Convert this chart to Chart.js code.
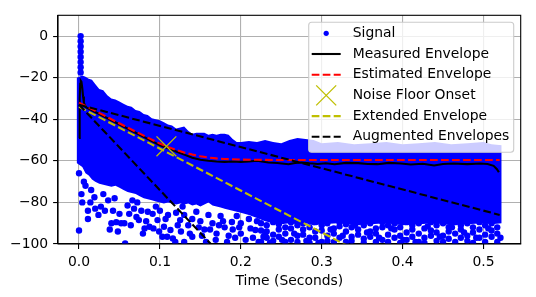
<!DOCTYPE html>
<html>
<head>
<meta charset="utf-8">
<script src="https://cdn.jsdelivr.net/npm/chart.js@4.4.0/dist/chart.umd.min.js"></script>
<style>
  html, body { margin: 0; padding: 0; background: #fff; }
  canvas { display: block; }
</style>
</head>
<body>
<canvas id="chart" width="536" height="297" style="width:536px;height:297px"></canvas>
<script>
// axis ticks
const xTicks = [0, 0.1, 0.2, 0.3, 0.4, 0.5]
const yTicks = [-100, -80, -60, -40, -20, 0]

// signal: dense part of the scatter, read as an upper and lower edge
const bandT = [
  -0.003, 0.004, 0.008, 0.012, 0.016, 0.02, 0.025, 0.03,
  0.035, 0.04, 0.045, 0.05, 0.055, 0.06, 0.065, 0.07,
  0.075, 0.08, 0.085, 0.09, 0.095, 0.1, 0.105, 0.11,
  0.115, 0.12, 0.125, 0.13, 0.135, 0.14, 0.145, 0.15,
  0.155, 0.16, 0.165, 0.17, 0.175, 0.18, 0.185, 0.19,
  0.195, 0.2, 0.21, 0.22, 0.23, 0.24, 0.25, 0.26,
  0.27, 0.28, 0.29, 0.3, 0.32, 0.34, 0.36, 0.38,
  0.4, 0.42, 0.44, 0.46, 0.48, 0.5, 0.51, 0.5225,
]
const bandTop = [
  -20, -19, -19.5, -20.5, -21, -23, -25.5, -26,
  -28.5, -30, -30.5, -31.5, -32.5, -33.5, -34, -35.5,
  -36, -37.5, -38, -39.5, -40, -40.5, -41.5, -42.5,
  -43, -44.5, -44, -43.5, -45.5, -47, -46.5, -46.5,
  -46.5, -47.5, -47, -47.5, -47, -47, -47.5, -49.5,
  -51, -51, -50.5, -51, -50, -51, -51.5, -50,
  -49, -49.5, -50, -51.5, -51, -52, -51.5, -51,
  -52, -51.5, -51, -52, -51.5, -51, -52, -52.5,
]
const bandBottom = [
  -61, -63, -66, -67, -69, -70, -71, -71.5,
  -72, -72.5, -72, -73, -74, -75, -75.5, -76,
  -77, -78, -78.5, -79, -79.5, -80, -80.5, -80,
  -80.5, -81, -80.5, -81, -80.5, -81.5, -81, -82,
  -81, -80, -81.5, -82, -82.5, -83, -83.5, -84,
  -84.5, -85, -86, -87.5, -89, -90, -90.5, -90,
  -90.5, -90, -91, -90.5, -90, -91, -90.5, -90,
  -91, -90.5, -90, -91, -90.5, -90, -90.5, -90,
]

// signal: separate samples (impulse and the scattered low ones)
const signalDots = [
  [0.002, 0], [0.002, -2.5], [0.002, -5], [0.002, -7.5], [0.002, -10],
  [0.002, -12.5], [0.002, -15], [0.002, -17.5],
  [0, -66], [0, -93.5], [0.003, -76], [0.004, -80], [0.006, -70], [0.008, -72],
  [0.011, -84], [0.011, -88], [0.014, -80], [0.015, -74], [0.019, -77.5], [0.02, -83],
  [0.024, -86], [0.027, -82], [0.03, -76], [0.032, -84], [0.036, -79], [0.038, -93],
  [0.04, -90], [0.042, -84], [0.044, -78], [0.046, -89.5], [0.048, -94], [0.05, -85.5],
  [0.052, -90], [0.056, -90], [0.057, -99.7], [0.06, -81.5], [0.062, -85.5], [0.064, -91],
  [0.066, -79], [0.068, -83], [0.071, -87], [0.072, -80], [0.074, -88.5], [0.077, -84],
  [0.079, -95], [0.081, -92.5], [0.083, -89], [0.085, -84.5], [0.087, -91.7], [0.091, -85.5],
  [0.092, -92.5], [0.095, -82], [0.097, -88.5], [0.099, -94], [0.1, -84], [0.103, -96.5],
  [0.105, -91.7], [0.107, -88], [0.109, -96.5], [0.11, -86], [0.113, -93.3], [0.116, -97.3],
  [0.119, -99], [0.12, -85], [0.122, -91], [0.125, -88.5], [0.126, -94], [0.128, -82],
  [0.13, -86], [0.13, -99], [0.135, -91], [0.137, -95], [0.14, -88], [0.14, -96.5],
  [0.145, -84.5], [0.148, -92], [0.15, -89], [0.152, -96], [0.155, -93], [0.157, -99],
  [0.16, -86], [0.162, -93], [0.165, -90], [0.169, -98], [0.17, -95], [0.173, -91],
  [0.175, -86.5], [0.178, -89], [0.18, -92], [0.183, -99], [0.185, -96], [0.189, -89.4],
  [0.19, -93], [0.193, -97], [0.195, -86.5], [0.198, -92], [0.2, -90], [0.2, -95],
  [0.206, -98], [0.21, -88], [0.212, -92.5], [0.215, -97], [0.218, -93.3], [0.22, -89],
  [0.222, -99], [0.23, -95.7],
  [0.225, -90], [0.225, -93.5], [0.225, -99], [0.228, -96.5],
  [0.232, -91], [0.232, -94], [0.232, -97], [0.236, -99.5],
  [0.24, -89.5], [0.24, -95.5], [0.24, -98.5],
  [0.247, -90.5], [0.247, -93], [0.247, -96.5], [0.251, -98],
  [0.255, -92], [0.255, -95], [0.255, -99],
  [0.262, -89.5], [0.262, -92.5], [0.262, -98], [0.266, -95],
  [0.27, -91], [0.27, -96], [0.27, -99],
  [0.277, -90], [0.277, -93], [0.277, -95.5], [0.281, -98.5],
  [0.285, -92], [0.285, -97], [0.285, -99.5],
  [0.292, -89.5], [0.292, -94], [0.292, -97], [0.296, -99.5],
  [0.3, -91], [0.3, -93.5], [0.3, -99],
  [0.307, -90], [0.307, -96], [0.307, -98.5], [0.311, -93],
  [0.315, -92.5], [0.315, -95], [0.315, -99],
  [0.322, -89.5], [0.322, -91.5], [0.322, -97], [0.326, -96],
  [0.33, -90.5], [0.33, -94], [0.33, -99],
  [0.337, -92], [0.337, -96.5], [0.337, -98.5], [0.341, -91],
  [0.345, -89.5], [0.345, -93], [0.345, -95.5],
  [0.352, -91], [0.352, -97.5], [0.352, -99.5], [0.356, -94.5],
  [0.36, -90], [0.36, -94], [0.36, -96.5],
  [0.367, -92.5], [0.367, -95], [0.367, -99], [0.371, -97],
  [0.375, -89.5], [0.375, -92], [0.375, -98],
  [0.382, -91], [0.382, -95.5], [0.382, -99], [0.386, -92.5],
  [0.39, -90], [0.39, -93], [0.39, -97],
  [0.397, -92], [0.397, -96], [0.397, -99.5], [0.401, -98],
  [0.405, -89.5], [0.405, -94.5], [0.405, -98],
  [0.412, -91], [0.412, -93], [0.412, -96.5], [0.416, -99],
  [0.42, -90], [0.42, -95], [0.42, -99],
  [0.427, -92.5], [0.427, -97], [0.427, -99.5], [0.431, -91.5],
  [0.435, -89.5], [0.435, -93.5], [0.435, -96],
  [0.442, -91], [0.442, -94.5], [0.442, -98.5], [0.446, -96.5],
  [0.45, -90], [0.45, -96], [0.45, -99],
  [0.457, -92], [0.457, -94], [0.457, -97.5], [0.461, -92],
  [0.465, -89.5], [0.465, -95], [0.465, -99],
  [0.472, -91], [0.472, -93], [0.472, -97], [0.476, -94.5],
  [0.48, -90], [0.48, -96], [0.48, -98.5],
  [0.487, -92], [0.487, -94.5], [0.487, -99.5], [0.491, -97],
  [0.495, -89.5], [0.495, -93], [0.495, -97],
  [0.502, -91], [0.502, -95.5], [0.502, -99], [0.506, -92.5],
  [0.51, -90], [0.51, -93.5], [0.51, -96.5],
  [0.517, -92], [0.517, -95], [0.517, -99], [0.521, -97],
]

// measured envelope
const measT = [
  0, 0.0008, 0.0015, 0.0022, 0.003, 0.004, 0.005, 0.006, 0.008, 0.01,
  0.02, 0.03, 0.04, 0.05, 0.06, 0.07, 0.08, 0.09, 0.1, 0.11,
  0.12, 0.13, 0.14, 0.15, 0.16, 0.17, 0.18, 0.19, 0.2, 0.21,
  0.22, 0.234, 0.245, 0.259, 0.267, 0.275, 0.285, 0.295, 0.305, 0.316,
  0.33, 0.345, 0.357, 0.369, 0.383, 0.398, 0.41, 0.425, 0.439, 0.45,
  0.463, 0.48, 0.496, 0.505, 0.5125, 0.5166, 0.519,
]
const measDb = [
  -49, -30, -23, -21.5, -22, -25, -29, -32, -34, -34.5,
  -36.5, -38.5, -40.5, -42.5, -44.5, -46.5, -48.5, -50.5, -52.5, -54,
  -55.5, -57, -58.5, -59.5, -60, -60.3, -60.5, -60.3, -60.5, -60.3,
  -60, -60.8, -61, -61.6, -61, -60.8, -61.2, -61.5, -61.2, -61.6,
  -61, -61.1, -61.5, -61.6, -61, -61.3, -61.8, -61.4, -62.2, -61.5,
  -61.3, -61.6, -61.3, -61.5, -62.4, -64, -65.5,
]

// estimated envelope
const estT = [0, 0.02, 0.04, 0.06, 0.08, 0.1, 0.11, 0.12, 0.13, 0.14, 0.15, 0.16, 0.17, 0.18, 0.2, 0.22, 0.25, 0.3, 0.52]
const estDb = [-32, -36, -40, -44, -47.9, -51.7, -53.3, -54.8, -56, -57, -57.8, -58.4, -58.8, -59.1, -59.4, -59.5, -59.6, -59.6, -59.6]

// noise floor onset
const onsetT = [0.108]
const onsetDb = [-53]

// extended envelope
const extT = [0, 0.33]
const extDb = [-34, -100.5]

// augmented envelopes
const augUpperT = [0, 0.52]
const augUpperDb = [-33, -86]
const augLowerT = [0, 0.163]
const augLowerDb = [-33, -100]

const pts = (ts, ys) => ts.map((t, i) => ({ x: t, y: ys[i] }))

const FONT = "'DejaVu Sans', 'Liberation Sans', sans-serif"
const LW = 2.08
const DASH = [7.7, 3.3]
const YELLOW = "#bfbf00"

const legendItems = [
  { label: "Signal", kind: "dot", color: "blue" },
  { label: "Measured Envelope", kind: "line", color: "black" },
  { label: "Estimated Envelope", kind: "dash", color: "red" },
  { label: "Noise Floor Onset", kind: "x", color: YELLOW },
  { label: "Extended Envelope", kind: "dash", color: YELLOW },
  { label: "Augmented Envelopes", kind: "dash", color: "black" },
]

const frameAndLegend = {
  id: "frameAndLegend",
  afterDatasetsDraw(chart) {
    const { ctx, chartArea: ca } = chart
    ctx.save()

    ctx.strokeStyle = "#000"
    ctx.lineWidth = 1.1
    ctx.strokeRect(ca.left, ca.top, ca.right - ca.left, ca.bottom - ca.top)

    const w = 205, h = 130, r = 3
    const x0 = ca.right - 7 - w
    const y0 = ca.top + 7
    ctx.beginPath()
    ctx.moveTo(x0 + r, y0)
    ctx.arcTo(x0 + w, y0, x0 + w, y0 + h, r)
    ctx.arcTo(x0 + w, y0 + h, x0, y0 + h, r)
    ctx.arcTo(x0, y0 + h, x0, y0, r)
    ctx.arcTo(x0, y0, x0 + w, y0, r)
    ctx.closePath()
    ctx.fillStyle = "rgba(255,255,255,0.8)"
    ctx.fill()
    ctx.strokeStyle = "#cccccc"
    ctx.lineWidth = 1.1
    ctx.stroke()

    ctx.font = "13.9px " + FONT
    ctx.textBaseline = "middle"
    ctx.textAlign = "left"

    legendItems.forEach((item, i) => {
      const cy = y0 + 11 + i * 20.7
      const hx0 = x0 + 3
      const hx1 = x0 + 32
      const mx = (hx0 + hx1) / 2

      if (item.kind === "dot") {
        ctx.fillStyle = item.color
        ctx.beginPath()
        ctx.arc(mx, cy, 2.6, 0, Math.PI * 2)
        ctx.fill()
      } else if (item.kind === "x") {
        ctx.strokeStyle = item.color
        ctx.lineWidth = 1.3
        ctx.setLineDash([])
        ctx.beginPath()
        ctx.moveTo(mx - 10, cy - 10)
        ctx.lineTo(mx + 10, cy + 10)
        ctx.moveTo(mx + 10, cy - 10)
        ctx.lineTo(mx - 10, cy + 10)
        ctx.stroke()
      } else {
        ctx.strokeStyle = item.color
        ctx.lineWidth = LW
        ctx.setLineDash(item.kind === "dash" ? DASH : [])
        ctx.beginPath()
        ctx.moveTo(hx0, cy)
        ctx.lineTo(hx1, cy)
        ctx.stroke()
        ctx.setLineDash([])
      }

      ctx.fillStyle = "#000"
      ctx.fillText(item.label, x0 + 44, cy)
    })

    ctx.restore()
  },
}

const lineStyle = (color, dash) => ({
  showLine: true,
  borderColor: color,
  borderWidth: LW,
  borderDash: dash || [],
  pointRadius: 0,
  fill: false,
  tension: 0,
  clip: 0,
})

const datasets = [
  {
    label: "Signal",
    data: pts(bandT, bandTop),
    showLine: true,
    borderWidth: 0,
    borderColor: "blue",
    backgroundColor: "blue",
    pointRadius: 0,
    fill: "+1",
    clip: 0,
  },
  {
    label: "Signal (lower edge)",
    data: pts(bandT, bandBottom),
    showLine: true,
    borderWidth: 0,
    borderColor: "blue",
    pointRadius: 0,
    fill: false,
    clip: 0,
  },
  {
    label: "Signal samples",
    data: signalDots.map(([t, v]) => ({ x: t, y: v })),
    pointRadius: 3.2,
    pointBackgroundColor: "blue",
    pointBorderWidth: 0,
    pointBorderColor: "blue",
    clip: 0,
  },
  { label: "Measured Envelope", data: pts(measT, measDb), ...lineStyle("black") },
  { label: "Estimated Envelope", data: pts(estT, estDb), ...lineStyle("red", DASH) },
  {
    label: "Noise Floor Onset",
    data: pts(onsetT, onsetDb),
    pointStyle: "crossRot",
    pointRadius: 14,
    pointBorderColor: YELLOW,
    pointBorderWidth: 1.3,
    clip: 0,
  },
  { label: "Extended Envelope", data: pts(extT, extDb), ...lineStyle(YELLOW, DASH) },
  { label: "Augmented Envelopes", data: pts(augUpperT, augUpperDb), ...lineStyle("black", DASH) },
  { label: "Augmented Envelopes", data: pts(augLowerT, augLowerDb), ...lineStyle("black", DASH) },
]
datasets.forEach((d, i) => { d.order = datasets.length - i })

const tickFont = { family: FONT, size: 13.9 }
const gridStyle = { color: "#b0b0b0", lineWidth: 1.1, tickColor: "#000", tickLength: 4.9, tickWidth: 1.1 }

new Chart(document.getElementById("chart"), {
  type: "scatter",
  data: { datasets: datasets },
  options: {
    responsive: false,
    animation: false,
    devicePixelRatio: 1,
    layout: { padding: { top: 10.7, right: 10.7, left: 0, bottom: 0 } },
    plugins: { legend: { display: false }, tooltip: { enabled: false } },
    scales: {
      x: {
        type: "linear",
        min: -0.026,
        max: 0.546,
        afterBuildTicks: (s) => { s.ticks = xTicks.map((v) => ({ value: v })) },
        afterFit: (s) => {
          s.height = 53
          s.paddingLeft = 0
          s.paddingRight = 0
        },
        grid: gridStyle,
        border: { color: "#000", width: 1.1 },
        ticks: {
          color: "#000",
          font: tickFont,
          padding: 4.9,
          maxRotation: 0,
          autoSkip: false,
          callback: (v) => Number(v).toFixed(1),
        },
        title: {
          display: true,
          text: "Time (Seconds)",
          color: "#000",
          font: tickFont,
          padding: { top: 4, bottom: 7 },
        },
      },
      y: {
        type: "linear",
        min: -100,
        max: 10,
        afterBuildTicks: (s) => { s.ticks = yTicks.map((v) => ({ value: v })) },
        afterFit: (s) => {
          s.width = 58
          s.paddingTop = 0
          s.paddingBottom = 0
        },
        grid: gridStyle,
        border: { color: "#000", width: 1.1 },
        ticks: {
          color: "#000",
          font: tickFont,
          padding: 4.9,
          autoSkip: false,
          callback: (v) => (v < 0 ? "\u2212" + Math.abs(v) : String(v)),
        },
      },
    },
  },
  plugins: [frameAndLegend],
})
</script>
</body>
</html>
